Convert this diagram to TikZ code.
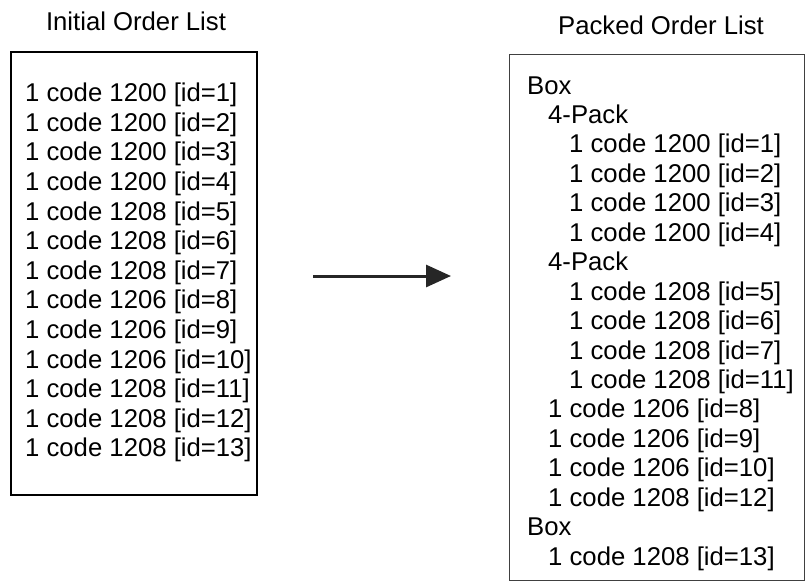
\documentclass[tikz,border=0pt]{standalone}
\usepackage{fontspec}
\setmainfont{Liberation Sans}
\usetikzlibrary{arrows.meta}
\begin{document}
\begin{tikzpicture}[x=1pt,y=-1pt,
  txt/.style={anchor=base west,inner sep=0pt,font=\fontsize{25.7}{29.6}\selectfont},
  title/.style={anchor=base,inner sep=0pt,font=\fontsize{25.7}{29.6}\selectfont},
  listbox/.style={draw=black,line width=1.4pt},
  packbox/.style={draw=black!75,line width=1pt},
  flow/.style={draw=black!85,line width=3pt,-{Triangle[length=25pt,width=22pt]}}]
\useasboundingbox (0,0) rectangle (805,581);
\node[title] (t1) at (136,30.7) {Initial Order List};
\node[title] (t2) at (661,34.3) {Packed Order List};
\draw[listbox] (11,52) rectangle (257,495);
\draw[packbox] (509,54) rectangle (804,580);
\foreach \t [count=\i from 0] in {{1 code 1200 [id=1]},{1 code 1200 [id=2]},{1 code 1200 [id=3]},{1 code 1200 [id=4]},{1 code 1208 [id=5]},{1 code 1208 [id=6]},{1 code 1208 [id=7]},{1 code 1206 [id=8]},{1 code 1206 [id=9]},{1 code 1206 [id=10]},{1 code 1208 [id=11]},{1 code 1208 [id=12]},{1 code 1208 [id=13]}}
  \node[txt] (l\i) at (25,101.7+29.6*\i) {\t};
\foreach \lv/\t [count=\i from 0] in {0/{Box},1/{4-Pack},2/{1 code 1200 [id=1]},2/{1 code 1200 [id=2]},2/{1 code 1200 [id=3]},2/{1 code 1200 [id=4]},1/{4-Pack},2/{1 code 1208 [id=5]},2/{1 code 1208 [id=6]},2/{1 code 1208 [id=7]},2/{1 code 1208 [id=11]},1/{1 code 1206 [id=8]},1/{1 code 1206 [id=9]},1/{1 code 1206 [id=10]},1/{1 code 1208 [id=12]},0/{Box},1/{1 code 1208 [id=13]}}
  \node[txt] (r\i) at (527+21*\lv,94+29.45*\i) {\t};
\coordinate (a0) at (313,276);
\coordinate (a1) at (451,276);
\draw[flow] (a0) -- (a1);
\end{tikzpicture}
\end{document}
